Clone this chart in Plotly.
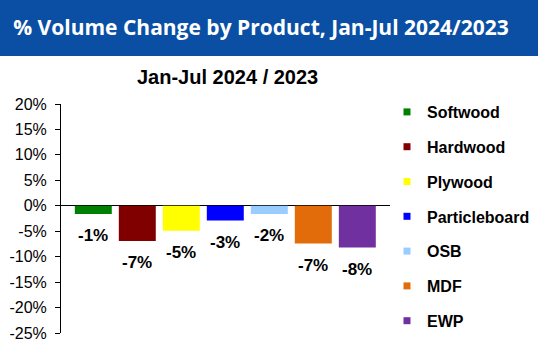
import plotly.graph_objects as go

# ---- data ----
products = ["Softwood", "Hardwood", "Plywood", "Particleboard", "OSB", "MDF", "EWP"]
values = [-1.6, -6.9, -4.9, -2.9, -1.6, -7.4, -8.2]
labels = ["-1%", "-7%", "-5%", "-3%", "-2%", "-7%", "-8%"]
colors = ["#008000", "#800000", "#FFFF00", "#0000FF", "#99CCFF", "#E36C0A", "#7030A0"]
y_ticks = [-25, -20, -15, -10, -5, 0, 5, 10, 15, 20]
y_ticklabels = [f"{t}%" for t in y_ticks]

W, H = 538, 350
ML, MR, MT, MB = 61, 148, 104, 17
PW, PH = W - ML - MR, H - MT - MB

FONT = "Liberation Sans, Arial, sans-serif"

fig = go.Figure()
for p, v, c in zip(products, values, colors):
    fig.add_trace(go.Bar(x=[p], y=[v], marker=dict(color=c, line=dict(width=0)),
                         width=0.84, name=p, legendgroup=p, showlegend=False,
                         hoverinfo="name+y"))
for p, c in zip(products, colors):
    fig.add_trace(go.Scatter(x=[None], y=[None], mode="markers", name=p, legendgroup=p,
                             marker=dict(symbol="square", size=7, color=c), showlegend=True))

annotations = []
for p, v, t in zip(products, values, labels):
    annotations.append(dict(x=p, y=v, text=f"<b>{t}</b>", showarrow=False, xref="x", yref="y",
                            yanchor="middle", yshift=-22,
                            font=dict(family=FONT, size=17, color="black")))
annotations.append(dict(x=(227 - ML) / PW, y=1 + (MT - 77) / PH, xref="paper", yref="paper",
                        text="<b>Jan-Jul 2024 / 2023</b>", showarrow=False,
                        xanchor="center", yanchor="middle",
                        font=dict(family=FONT, size=20, color="black")))

fig.update_layout(
    width=W, height=H,
    margin=dict(l=ML, r=MR, t=MT, b=MB, pad=0, autoexpand=False),
    paper_bgcolor="white", plot_bgcolor="white",
    barmode="overlay",
    title=dict(text="<b>% Volume Change by Product, Jan-Jul 2024/2023</b>",
               x=261 / W, xanchor="center", y=1 - 27.5 / H, yanchor="middle",
               font=dict(family="Open Sans, sans-serif", size=21, color="white")),
    shapes=[dict(type="rect", xref="paper", yref="paper", layer="below",
                 x0=-ML / PW, x1=(W - ML) / PW,
                 y0=1 + (MT - 56) / PH, y1=1 + MT / PH,
                 fillcolor="#0A4FA3", line=dict(width=0))],
    annotations=annotations,
    showlegend=True,
    legend=dict(x=(387 - ML) / PW, y=1 + (MT - 95) / PH, xanchor="left", yanchor="top",
                font=dict(family=FONT, size=16, color="black", weight="bold"),
                tracegroupgap=11, bgcolor="rgba(0,0,0,0)", itemclick=False,
                maxheight=1.0),
    xaxis=dict(range=[-0.734, 6.743], showticklabels=False, showgrid=False,
               showline=False, zeroline=False, ticks=""),
    yaxis=dict(range=[-25, 20], tickvals=y_ticks, ticktext=y_ticklabels,
               showgrid=False, showline=True, linecolor="black", linewidth=1,
               ticks="outside", ticklen=5, tickcolor="black", ticklabelstandoff=5,
               zeroline=True, zerolinecolor="black", zerolinewidth=1,
               tickfont=dict(family=FONT, size=16, color="black")),
)

fig.write_html("out.html")
